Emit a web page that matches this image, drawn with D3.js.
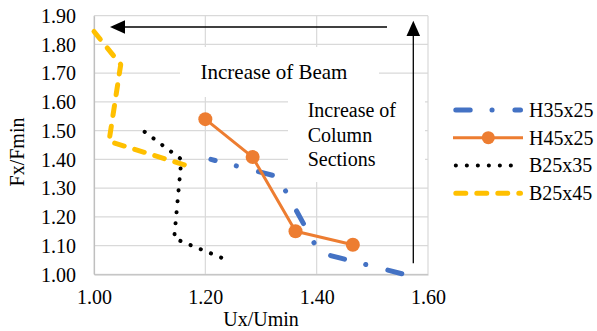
<!DOCTYPE html>
<html>
<head>
<meta charset="utf-8">
<script src="https://cdn.jsdelivr.net/npm/d3@7/dist/d3.min.js"></script>
<style>
  html, body { margin: 0; padding: 0; background: #fff; }
  svg { display: block; }
  text { font-family: "Liberation Serif", "Times New Roman", serif; fill: #000; }
</style>
</head>
<body>
<svg id="chart" width="597" height="331"></svg>
<script>
// ---- data ----
const xTicks = [1.00, 1.20, 1.40, 1.60];
const yTicks = [1.00, 1.10, 1.20, 1.30, 1.40, 1.50, 1.60, 1.70, 1.80, 1.90];
const seriesNames = ["H35x25", "H45x25", "B25x35", "B25x45"];
const h35x25X = [1.21, 1.33, 1.405, 1.557];
const h35x25Y = [1.40, 1.34, 1.075, 1.00];
const h45x25X = [1.20, 1.285, 1.362, 1.465];
const h45x25Y = [1.54, 1.408, 1.150, 1.103];
const b25x35X = [1.091, 1.157, 1.144, 1.240];
const b25x35Y = [1.496, 1.40, 1.125, 1.049];
const b25x45X = [1.00, 1.048, 1.027, 1.167];
const b25x45Y = [1.845, 1.73, 1.463, 1.378];
const xLabel = "Ux/Umin";
const yLabel = "Fx/Fmin";
const beamNote = "Increase of Beam";
const columnNote = ["Increase of", "Column", "Sections"];

// ---- layout ----
const L = 94, R = 428, T = 15.7, B = 274.3;
const svg = d3.select("#chart");
const x = d3.scaleLinear().domain([1.0, 1.6]).range([L, R]);
const y = d3.scaleLinear().domain([1.0, 1.9]).range([B, T]);

const styles = [
  { color: "#4472C4", width: 5, dash: "14.4,21.8,0.1,22.8", offset: 10, cap: "round" },
  { color: "#ED7D31", width: 3, dash: null, cap: "butt", marker: true },
  { color: "#000000", width: 4, dash: "0.1,10.9", offset: 0, cap: "round" },
  { color: "#FFC000", width: 5, dash: "10,11", offset: 0, cap: "round" }
];

// gridlines
const grid = svg.append("g");
grid.selectAll("line.h").data(yTicks).join("line")
  .attr("x1", L).attr("x2", R).attr("y1", d => y(d)).attr("y2", d => y(d))
  .attr("stroke", "#d9d9d9").attr("stroke-width", 1.2);
grid.selectAll("line.v").data(xTicks).join("line")
  .attr("y1", T).attr("y2", B).attr("x1", d => x(d)).attr("x2", d => x(d))
  .attr("stroke", "#d9d9d9").attr("stroke-width", 1.2);

// axes (labels only)
const yAxis = d3.axisLeft(y).tickValues(yTicks).tickFormat(d3.format(".2f")).tickSize(0).tickPadding(18);
const gy = svg.append("g").attr("transform", `translate(${L},0)`).call(yAxis);
gy.select(".domain").attr("stroke", "#bfbfbf").attr("stroke-width", 1.2);
gy.selectAll("text").attr("font-size", 20).attr("font-family", "Liberation Serif").attr("dy", "0.34em");

const xAxis = d3.axisBottom(x).tickValues(xTicks).tickFormat(d3.format(".2f")).tickSize(0).tickPadding(16);
const gx = svg.append("g").attr("transform", `translate(0,${B})`).call(xAxis);
gx.select(".domain").attr("stroke", "#bfbfbf").attr("stroke-width", 1.2);
gx.selectAll("text").attr("font-size", 20).attr("font-family", "Liberation Serif");

svg.append("text").attr("x", (L + R) / 2).attr("y", 326).attr("text-anchor", "middle")
  .attr("font-size", 20).text(xLabel);
svg.append("text").attr("transform", "translate(24,152) rotate(-90)").attr("text-anchor", "middle")
  .attr("font-size", 20).text(yLabel);

// text boxes
svg.append("rect").attr("x", 180).attr("y", 47).attr("width", 199).attr("height", 50).attr("fill", "#fff");
svg.append("rect").attr("x", 288).attr("y", 90).attr("width", 137).attr("height", 92).attr("fill", "#fff");
svg.append("text").attr("x", 274).attr("y", 79).attr("text-anchor", "middle").attr("font-size", 21).text(beamNote);
svg.append("g").selectAll("text").data(columnNote).join("text")
  .attr("x", 307.7).attr("y", (d, i) => 117 + i * 24.7).attr("font-size", 20).text(d => d);

// series
const allX = [h35x25X, h45x25X, b25x35X, b25x45X];
const allY = [h35x25Y, h45x25Y, b25x35Y, b25x45Y];
const line = d3.line().x(d => x(d[0])).y(d => y(d[1]));
const draw = [3, 2, 0, 1];
draw.forEach(i => {
  const pts = allX[i].map((v, k) => [v, allY[i][k]]);
  const s = styles[i];
  const p = svg.append("path").attr("d", line(pts)).attr("fill", "none")
    .attr("stroke", s.color).attr("stroke-width", s.width)
    .attr("stroke-linecap", s.cap).attr("stroke-linejoin", "round");
  if (s.dash) p.attr("stroke-dasharray", s.dash).attr("stroke-dashoffset", s.offset);
  if (s.marker) {
    svg.append("g").selectAll("circle").data(pts).join("circle")
      .attr("cx", d => x(d[0])).attr("cy", d => y(d[1])).attr("r", 7).attr("fill", s.color);
  }
});

// arrows
svg.append("line").attr("x1", 387).attr("y1", 27).attr("x2", 120).attr("y2", 27)
  .attr("stroke", "#000").attr("stroke-width", 1.3);
svg.append("path").attr("d", "M110,27 L125,20.3 L125,33.7 Z").attr("fill", "#000");
svg.append("line").attr("x1", 413.3).attr("y1", 263.3).attr("x2", 413.3).attr("y2", 30)
  .attr("stroke", "#000").attr("stroke-width", 1.3);
svg.append("path").attr("d", "M413.3,20.7 L406.5,36 L420.1,36 Z").attr("fill", "#000");

// legend
const legY = [110, 137.7, 165.5, 193.3];
const leg = svg.append("g");
seriesNames.forEach((name, i) => {
  const s = styles[i];
  const yy = legY[i];
  const x1 = s.cap === "round" ? 455.8 : 453, x2 = s.cap === "round" ? 520.5 : 523;
  const l = leg.append("line").attr("x1", x1).attr("x2", x2).attr("y1", yy).attr("y2", yy)
    .attr("stroke", s.color).attr("stroke-width", s.width).attr("stroke-linecap", s.cap);
  if (s.dash) l.attr("stroke-dasharray", s.dash);
  if (s.marker) leg.append("circle").attr("cx", 488.3).attr("cy", yy).attr("r", 6.5).attr("fill", s.color);
  leg.append("text").attr("x", 529).attr("y", yy).attr("dy", "0.34em").attr("font-size", 20).text(name);
});
</script>
</body>
</html>
